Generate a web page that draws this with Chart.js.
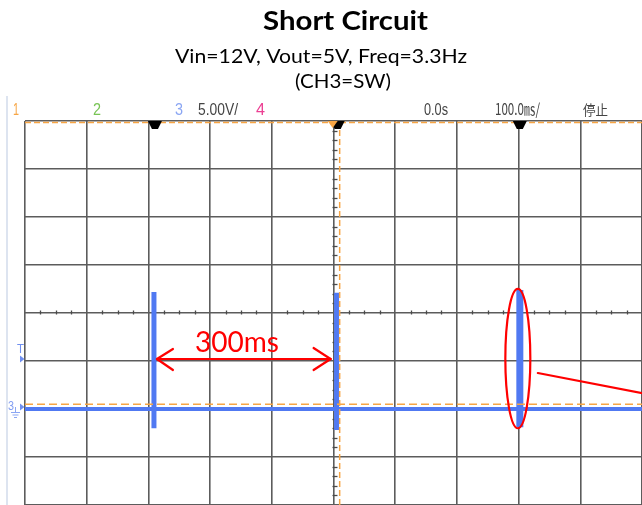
<!DOCTYPE html>
<html>
<head>
<meta charset="utf-8">
<script src="https://cdn.jsdelivr.net/npm/chart.js@4.4.0/dist/chart.umd.min.js"></script>
<style>
  html, body { margin: 0; padding: 0; background: #fff; }
  #wrap { position: relative; width: 642px; height: 505px; }
</style>
</head>
<body>
<div id="wrap"><canvas id="scope"></canvas></div>
<script>
// ---- data read off the scope capture ----
// time in ms (100 ms/div), CH3 in volts relative to its ground marker (5 V/div)
const timeSpan = [-500, 500];
const voltSpan = [-10, 30];
const baselineTimes = [-500, 500];
const baselineVolts = [0, 0];
const pulseTimes = [-291, 5, 302];
const pulseHighs = [12.2, 12.1, 12.4];
const pulseLows = [-2.0, -2.2, -1.9];
const triggerLevel = 0.5;
const triggerTime = 10;
const ch1Level = 29.85;
const markerLevel = 5.2;
const headerLabels = ['1', '2', '3', '5.00V/', '4', '0.0s', '100.0\u33B3/', '停止'];
const periodLabel = '300ms';
const titleLines = ['Short Circuit', 'Vin=12V, Vout=5V, Freq=3.3Hz', '(CH3=SW)'];

const TRACE = '#5079f2';
const ORANGE = '#f7a544';
const RED = '#ff0000';

// build the pulse dataset: one vertical stroke per pulse, broken by nulls
const pulsePoints = [];
pulseTimes.forEach((t, i) => {
  pulsePoints.push({ x: t, y: pulseLows[i] }, { x: t, y: pulseHighs[i] }, { x: t, y: null });
});

/* ==========================================
   HELPERS
   ========================================== */

// draw text squeezed/stretched to a given width (left aligned at x)
function fitText(ctx, text, x, y, width, font, color) {
  ctx.save();
  ctx.font = font;
  ctx.fillStyle = color;
  ctx.textBaseline = 'alphabetic';
  ctx.textAlign = 'left';
  const w = ctx.measureText(text).width || 1;
  ctx.translate(x, y);
  ctx.scale(width / w, 1);
  ctx.fillText(text, 0, 0);
  ctx.restore();
}

function line(ctx, x1, y1, x2, y2) {
  ctx.beginPath();
  ctx.moveTo(x1, y1);
  ctx.lineTo(x2, y2);
  ctx.stroke();
}

/* ==========================================
   DECORATION PLUGIN
   ========================================== */

const scopeDecor = {
  id: 'scopeDecor',

  // minor ticks on the two centre graticule lines
  beforeDatasetsDraw(chart) {
    const { ctx, scales: { x, y } } = chart;
    const cx = Math.round(x.getPixelForValue((timeSpan[0] + timeSpan[1]) / 2)) + 0.5;
    const cy = Math.round(y.getPixelForValue((voltSpan[0] + voltSpan[1]) / 2)) + 0.5;
    ctx.save();
    ctx.strokeStyle = '#4a4a4a';
    ctx.lineWidth = 1.3;
    for (let t = timeSpan[0]; t <= timeSpan[1]; t += 25) {
      if (t % 100 === 0) continue;
      const px = Math.round(x.getPixelForValue(t)) + 0.5;
      line(ctx, px, cy - 3, px, cy + 1);
    }
    for (let v = voltSpan[0]; v <= voltSpan[1]; v += 1) {
      if (v % 5 === 0) continue;
      const py = Math.round(y.getPixelForValue(v)) + 0.5;
      line(ctx, cx - 2, py, cx + 3, py);
    }
    ctx.restore();
  },

  afterDraw(chart) {
    const { ctx, chartArea, scales: { x, y } } = chart;
    ctx.save();

    // faint frame line at the far left
    ctx.strokeStyle = '#dde4f0';
    ctx.lineWidth = 2;
    line(ctx, 7, 96, 7, chartArea.bottom);

    // title block
    fitText(ctx, titleLines[0], 263, 30, 165, 'bold 26px Lato, "Open Sans", sans-serif', '#000');
    fitText(ctx, titleLines[1], 175, 63, 292, '20px Lato, "Open Sans", sans-serif', '#000');
    fitText(ctx, titleLines[2], 295, 88, 96, '20px Lato, "Open Sans", sans-serif', '#000');

    // scope status line
    const hf = '16px "Liberation Sans", "DejaVu Sans", sans-serif';
    const hy = 115;
    fitText(ctx, headerLabels[0], 13, hy, 6, hf, '#f7a544');
    fitText(ctx, headerLabels[1], 93, hy, 8, hf, '#78c455');
    fitText(ctx, headerLabels[2], 175, hy, 8, hf, '#8ba6f3');
    fitText(ctx, headerLabels[3], 198, hy, 40, hf, '#444');
    fitText(ctx, headerLabels[4], 256, hy, 9, hf, '#ec3f93');
    fitText(ctx, headerLabels[5], 424, hy, 24, hf, '#444');
    fitText(ctx, headerLabels[6], 495, hy, 45, '16px "Noto Sans CJK JP", "Liberation Sans", sans-serif', '#444');
    fitText(ctx, headerLabels[7], 583, hy, 25, '14px "Noto Sans CJK JP", sans-serif', '#444');

    // cursor markers along the top edge
    const top = chartArea.top;
    const trap = (cxp, color) => {
      ctx.fillStyle = color;
      ctx.beginPath();
      ctx.moveTo(cxp - 7, top);
      ctx.lineTo(cxp + 7, top);
      ctx.lineTo(cxp + 3, top + 8);
      ctx.lineTo(cxp - 3, top + 8);
      ctx.closePath();
      ctx.fill();
    };
    trap(x.getPixelForValue(pulseTimes[0]) + 1, '#000');
    trap(x.getPixelForValue(pulseTimes[2]), '#000');
    trap(x.getPixelForValue(triggerTime) - 2, '#000');
    ctx.fillStyle = ORANGE;
    ctx.beginPath();
    const ox = x.getPixelForValue(triggerTime) - 7;
    ctx.moveTo(ox - 5, top);
    ctx.lineTo(ox + 5, top);
    ctx.lineTo(ox, top + 7);
    ctx.closePath();
    ctx.fill();

    // left-side channel markers
    const gy = y.getPixelForValue(0) - 2;
    const ty = y.getPixelForValue(markerLevel);
    ctx.fillStyle = '#6f8ff0';
    ctx.beginPath();
    ctx.moveTo(20, ty - 3.5); ctx.lineTo(24.5, ty); ctx.lineTo(20, ty + 3.5); ctx.closePath(); ctx.fill();
    fitText(ctx, 'T', 17, ty - 6, 7, '12px "Liberation Sans", sans-serif', '#6f8ff0');
    ctx.beginPath();
    ctx.moveTo(20, gy - 3.5); ctx.lineTo(24.5, gy); ctx.lineTo(20, gy + 3.5); ctx.closePath(); ctx.fill();
    fitText(ctx, '3', 8, gy + 3, 6, '13px "Liberation Sans", sans-serif', '#7f9bf2');
    ctx.strokeStyle = '#8ba6f3';
    ctx.lineWidth = 1;
    line(ctx, 15.5, gy, 15.5, gy + 5);
    line(ctx, 11, gy + 5.5, 20, gy + 5.5);
    line(ctx, 12.5, gy + 8, 18.5, gy + 8);
    line(ctx, 14, gy + 10.5, 17, gy + 10.5);

    // red annotations: period arrow, label, ellipse and pointer
    ctx.strokeStyle = RED;
    ctx.fillStyle = RED;
    ctx.lineWidth = 2.2;
    ctx.lineCap = 'round';
    const ay = 359;
    const ax1 = x.getPixelForValue(pulseTimes[0]) + 3;
    const ax2 = x.getPixelForValue(pulseTimes[1]) - 6;
    line(ctx, ax1, ay, ax2, ay);
    line(ctx, ax1, ay, ax1 + 16, ay - 10);
    line(ctx, ax1, ay, ax1 + 16, ay + 11);
    line(ctx, ax2, ay, ax2 - 17, ay - 11);
    line(ctx, ax2, ay, ax2 - 17, ay + 11);
    fitText(ctx, periodLabel, 195, 352, 84, '28px Lato, "Open Sans", sans-serif', RED);

    const ex = x.getPixelForValue(pulseTimes[2]) - 2;
    const eyTop = y.getPixelForValue(pulseHighs[2]) - 1;
    const eyBot = y.getPixelForValue(pulseLows[2]) + 1;
    ctx.beginPath();
    ctx.ellipse(ex, (eyTop + eyBot) / 2, 12.5, (eyBot - eyTop) / 2, 0, 0, Math.PI * 2);
    ctx.stroke();
    line(ctx, ex + 20, 373, chartArea.right + 2, 393.5);

    ctx.restore();
  }
};

/* ==========================================
   CHART
   ========================================== */

const gridOpts = { color: '#5c5c5c', lineWidth: 1.6, drawTicks: false };

new Chart(document.getElementById('scope'), {
  type: 'line',
  data: {
    datasets: [
      {
        label: 'CH1',
        data: timeSpan.map(t => ({ x: t, y: ch1Level })),
        borderColor: ORANGE,
        borderWidth: 1.5,
        borderDash: [6, 3],
        pointRadius: 0,
        order: 1
      },
      {
        label: 'Trigger level',
        data: timeSpan.map(t => ({ x: t, y: triggerLevel })),
        borderColor: ORANGE,
        borderWidth: 1.5,
        borderDash: [8, 4],
        pointRadius: 0,
        order: 1
      },
      {
        label: 'Trigger time',
        data: voltSpan.map(v => ({ x: triggerTime, y: v })),
        borderColor: ORANGE,
        borderWidth: 1.5,
        borderDash: [6, 3],
        pointRadius: 0,
        order: 1
      },
      {
        label: 'CH3 pulses',
        data: pulsePoints,
        borderColor: TRACE,
        borderWidth: 5,
        borderCapStyle: 'butt',
        segment: { borderWidth: c => (c.p0DataIndex >= 6 ? 7 : 5) },
        spanGaps: false,
        pointRadius: 0,
        order: 2
      },
      {
        label: 'CH3',
        data: baselineTimes.map((t, i) => ({ x: t, y: baselineVolts[i] })),
        borderColor: TRACE,
        borderWidth: 4,
        pointRadius: 0,
        order: 3
      }
    ]
  },
  options: {
    responsive: true,
    maintainAspectRatio: false,
    animation: false,
    layout: { padding: { left: 25, top: 121, right: 0, bottom: 0 } },
    plugins: {
      legend: { display: false },
      tooltip: { enabled: false },
      title: { display: false }
    },
    scales: {
      x: {
        type: 'linear',
        min: timeSpan[0],
        max: timeSpan[1],
        ticks: { display: false, stepSize: 100 },
        grid: gridOpts,
        border: { display: false }
      },
      y: {
        type: 'linear',
        min: voltSpan[0],
        max: voltSpan[1],
        ticks: { display: false, stepSize: 5 },
        grid: gridOpts,
        border: { display: false }
      }
    }
  },
  plugins: [scopeDecor]
});
</script>
</body>
</html>
